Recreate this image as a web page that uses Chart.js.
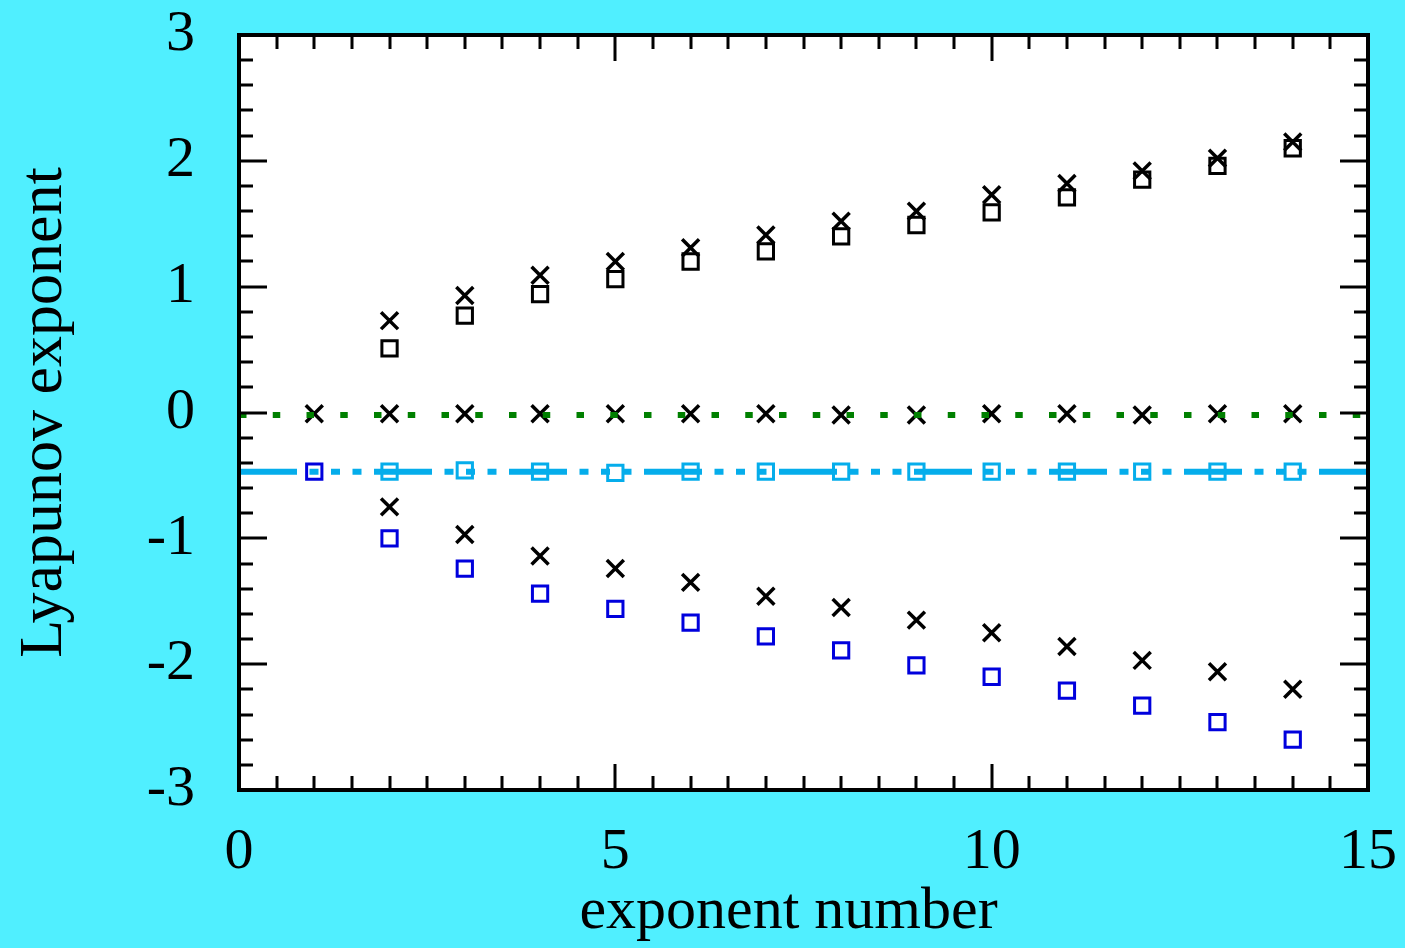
<!DOCTYPE html>
<html><head><meta charset="utf-8">
<script src="https://cdn.jsdelivr.net/npm/chart.js@4/dist/chart.umd.min.js"></script>
<style>html,body{margin:0;padding:0;background:#50EFFF;overflow:hidden}</style>
</head><body>
<canvas id="c" width="1405" height="948" style="width:1405px;height:948px;display:block"></canvas>
<script>
// ---- data ----
const xAll = [1,2,3,4,5,6,7,8,9,10,11,12,13,14];
const xFrom2 = [2,3,4,5,6,7,8,9,10,11,12,13,14];
const crossUpper = [0.73,0.93,1.09,1.20,1.31,1.41,1.52,1.60,1.73,1.82,1.92,2.02,2.15];
const squareUpper = [0.51,0.77,0.94,1.06,1.20,1.28,1.40,1.49,1.59,1.71,1.85,1.96,2.10];
const crossZero = [-0.01,-0.01,-0.01,-0.01,-0.01,-0.01,-0.01,-0.02,-0.02,-0.01,-0.01,-0.02,-0.01,-0.01];
const crossLower = [-0.75,-0.97,-1.14,-1.24,-1.35,-1.46,-1.55,-1.65,-1.75,-1.86,-1.97,-2.06,-2.20];
const squareBlue = [-0.47,-1.00,-1.24,-1.44,-1.56,-1.67,-1.78,-1.89,-2.01,-2.10,-2.21,-2.33,-2.46,-2.60];
const squareCyan = [-0.47,-0.46,-0.47,-0.48,-0.47,-0.47,-0.47,-0.47,-0.47,-0.47,-0.47,-0.47,-0.47];
const lineX = [0, 15];
const greenLevel = [-0.02, -0.02];
const cyanLevel = [-0.47, -0.47];
const xTickValues = [0, 5, 10, 15];
const xTickLabels = ['0', '5', '10', '15'];
const yTickValues = [3, 2, 1, 0, -1, -2, -3];
const yTickLabels = ['3', '2', '1', '0', '-1', '-2', '-3'];
const xTitle = 'exponent number';
const yTitle = 'Lyapunov exponent';

const pts = (xs, ys) => xs.map((x, i) => ({x: x, y: ys[i]}));

const BG = '#50EFFF';
const serif = "'Liberation Serif', 'Times New Roman', serif";

const framePlugin = {
  id: 'frame',
  beforeDraw(chart) {
    const {ctx, chartArea: a} = chart;
    ctx.save();
    ctx.fillStyle = BG;
    ctx.fillRect(0, 0, chart.width, chart.height);
    ctx.fillStyle = '#ffffff';
    ctx.fillRect(a.left, a.top, a.right - a.left, a.bottom - a.top);
    ctx.restore();
  },
  afterDatasetsDraw(chart) {
    const {ctx, chartArea: a, scales} = chart;
    const xs = scales.x, ys = scales.y;
    ctx.save();
    ctx.strokeStyle = '#000';
    ctx.lineCap = 'butt';
    ctx.lineWidth = 3;
    ctx.beginPath();
    for (let k = 1; k < 30; k++) {
      const v = k * 0.5;
      const px = Math.round(xs.getPixelForValue(v));
      const len = (k % 10 === 0) ? 26 : 14;
      ctx.moveTo(px, a.bottom); ctx.lineTo(px, a.bottom - len);
      ctx.moveTo(px, a.top); ctx.lineTo(px, a.top + len);
    }
    for (let k = -14; k <= 14; k++) {
      const v = k * 0.2;
      const py = Math.round(ys.getPixelForValue(v));
      const len = (k % 5 === 0) ? 28 : 14;
      ctx.moveTo(a.left, py); ctx.lineTo(a.left + len, py);
      ctx.moveTo(a.right, py); ctx.lineTo(a.right - len, py);
    }
    ctx.stroke();
    ctx.lineWidth = 4;
    ctx.strokeRect(a.left, a.top, a.right - a.left, a.bottom - a.top);
    ctx.restore();
  }
};

const crossStyle = {pointStyle: 'crossRot', pointRadius: 12, pointBorderWidth: 3.5, borderColor: '#000', backgroundColor: 'rgba(0,0,0,0)', showLine: false};
const rectStyle = (c) => ({pointStyle: 'rect', pointRadius: 10.8, pointBorderWidth: 3, borderColor: c, backgroundColor: 'rgba(0,0,0,0)', showLine: false});

new Chart(document.getElementById('c'), {
  type: 'scatter',
  data: {
    datasets: [
      {label: 'zero line', data: pts(lineX, greenLevel), showLine: true, pointRadius: 0, borderColor: '#008000', borderWidth: 6, borderDash: [7.5, 26.25], borderCapStyle: 'butt'},
      {label: 'cyan line', data: pts(lineX, cyanLevel), showLine: true, pointRadius: 0, borderColor: '#05ADEB', borderWidth: 6, borderDash: [58, 12.5, 9, 12.5, 9, 12.5, 9, 12.5], borderCapStyle: 'butt'},
      Object.assign({label: 'cross upper', data: pts(xFrom2, crossUpper)}, crossStyle),
      Object.assign({label: 'square upper', data: pts(xFrom2, squareUpper)}, rectStyle('#000')),
      Object.assign({label: 'cross zero', data: pts(xAll, crossZero)}, crossStyle),
      Object.assign({label: 'cross lower', data: pts(xFrom2, crossLower)}, crossStyle),
      Object.assign({label: 'square cyan', data: pts(xFrom2, squareCyan)}, rectStyle('#05ADEB')),
      Object.assign({label: 'square blue', data: pts(xAll, squareBlue)}, rectStyle('#0000DD'))
    ]
  },
  options: {
    responsive: false,
    animation: false,
    events: [],
    layout: {padding: {left: 0, right: 37, top: 35, bottom: 0}},
    plugins: {legend: {display: false}, tooltip: {enabled: false}},
    scales: {
      x: {
        type: 'linear', min: 0, max: 15,
        afterBuildTicks: (s) => { s.ticks = xTickValues.map(v => ({value: v})); },
        afterFit: (s) => { s.height = 158; s.paddingLeft = 0; s.paddingRight = 0; s.paddingTop = 0; s.paddingBottom = 0; },
        ticks: {callback: (v, i) => xTickLabels[i], color: '#000', padding: 34, maxRotation: 0, autoSkip: false,
                font: {family: serif, size: 58, lineHeight: 1}},
        grid: {display: false, drawTicks: false},
        border: {display: false},
        title: {display: true, text: xTitle + '  ', color: '#000', font: {family: serif, size: 60, lineHeight: 1}, padding: {top: 0, bottom: 6}}
      },
      y: {
        type: 'linear', min: -3, max: 3,
        afterBuildTicks: (s) => { s.ticks = yTickValues.map(v => ({value: v})); },
        afterFit: (s) => { s.width = 239; s.paddingTop = 0; s.paddingBottom = 0; s.paddingLeft = 0; s.paddingRight = 0; },
        ticks: {callback: (v, i) => yTickLabels[i], color: '#000', padding: 44, autoSkip: false,
                font: {family: serif, size: 58, lineHeight: 1}},
        grid: {display: false, drawTicks: false},
        border: {display: false},
        title: {display: true, text: yTitle, color: '#000', font: {family: serif, size: 62, lineHeight: 1}, padding: {top: 14, bottom: 0}}
      }
    }
  },
  plugins: [framePlugin]
});
</script>
</body></html>
